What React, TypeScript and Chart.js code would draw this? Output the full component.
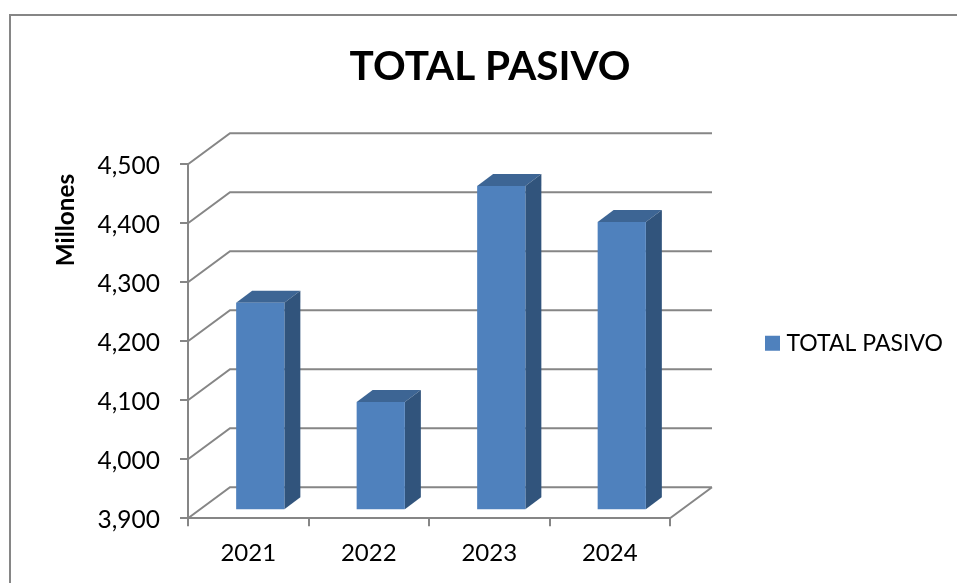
import React, { useEffect, useRef } from "react";
import { Chart, registerables } from "chart.js";

Chart.register(...registerables);

const categories = ["2021", "2022", "2023", "2024"];
const seriesName = "TOTAL PASIVO";
const values = [4250, 4082, 4448, 4387];
const yMin = 3900;
const yMax = 4500;
const yStep = 100;
const yTitle = "Millones";

const FONT = "Lato";
const GRID = "#868686";
const FRONT = "#4F81BD";
const TOP = "#3D6594";
const SIDE = "#31547C";

const WALL_DX = 42;
const WALL_DY = -31;
const BAR_DX = 12;
const BAR_DY = -9;
const DEPTH_DX = 16;
const DEPTH_DY = -12;

const scene = {
  id: "scene",
  afterLayout(chart: any) {
    const l = chart.legend;
    l.left = 765;
    l.right = 957;
    l.width = 192;
    l.top = 326.8;
    l.bottom = 380;
    l.height = 53.2;
    const t = chart.titleBlock;
    t.left = 23;
    t.right = 957;
    t.width = 934;
  },
  beforeDraw(chart: any) {
    const c = chart.ctx;
    c.save();
    c.fillStyle = "#ffffff";
    c.fillRect(0, 0, chart.width, chart.height);
    c.strokeStyle = GRID;
    c.lineWidth = 2;
    c.beginPath();
    c.moveTo(10, chart.height);
    c.lineTo(10, 15);
    c.lineTo(chart.width, 15);
    c.stroke();
    c.restore();
  },
  beforeDatasetsDraw(chart: any) {
    const c = chart.ctx;
    const { left, right, bottom } = chart.chartArea;
    const y = chart.scales.y;
    c.save();
    c.strokeStyle = GRID;
    c.lineWidth = 2;
    c.beginPath();
    for (const t of y.ticks) {
      const p = y.getPixelForValue(t.value);
      c.moveTo(left, p);
      c.lineTo(left + WALL_DX, p + WALL_DY);
      c.lineTo(right + WALL_DX, p + WALL_DY);
    }
    c.moveTo(right, bottom);
    c.lineTo(right + WALL_DX, bottom + WALL_DY);
    c.stroke();

    const bars = chart.getDatasetMeta(0).data;
    for (const b of bars) {
      const hw = b.width / 2;
      const x0 = b.x - hw + BAR_DX;
      const x1 = b.x + hw + BAR_DX;
      const yt = b.y + BAR_DY;
      const yb = y.getPixelForValue(yMin) + BAR_DY;
      c.fillStyle = TOP;
      c.beginPath();
      c.moveTo(x0, yt);
      c.lineTo(x0 + DEPTH_DX, yt + DEPTH_DY);
      c.lineTo(x1 + DEPTH_DX, yt + DEPTH_DY);
      c.lineTo(x1, yt);
      c.closePath();
      c.fill();
      c.fillStyle = SIDE;
      c.beginPath();
      c.moveTo(x1, yt);
      c.lineTo(x1 + DEPTH_DX, yt + DEPTH_DY);
      c.lineTo(x1 + DEPTH_DX, yb + DEPTH_DY);
      c.lineTo(x1, yb);
      c.closePath();
      c.fill();
    }
    c.restore();
    c.save();
    c.translate(BAR_DX, BAR_DY);
  },
  afterDatasetsDraw(chart: any) {
    chart.ctx.restore();
    const c = chart.ctx;
    c.save();
    c.fillStyle = "#000000";
    c.font = `bold 24.3px ${FONT}`;
    c.textAlign = "center";
    c.textBaseline = "middle";
    c.translate(66, 220);
    c.rotate(-Math.PI / 2);
    c.fillText(yTitle, 0, 0);
    c.restore();
  },
};

export default function App() {
  const ref = useRef<HTMLCanvasElement | null>(null);
  useEffect(() => {
    document.body.style.margin = "0";
    const chart = new Chart(ref.current as HTMLCanvasElement, {
      type: "bar",
      data: {
        labels: categories,
        datasets: [
          {
            label: seriesName,
            data: values,
            backgroundColor: FRONT,
            barPercentage: 0.4,
            categoryPercentage: 1,
          },
        ],
      },
      options: {
        responsive: false,
        animation: false,
        layout: { padding: { left: 23, right: 287, top: 0, bottom: 0 } },
        scales: {
          x: {
            offset: true,
            grid: {
              offset: true,
              drawOnChartArea: false,
              color: GRID,
              lineWidth: 2,
              tickLength: 8,
            },
            border: { color: GRID, width: 2 },
            ticks: { color: "#000", font: { family: FONT, size: 24 }, padding: 13, maxRotation: 0 },
            afterFit: (s: any) => {
              s.height = 64.7;
            },
          },
          y: {
            min: yMin,
            max: yMax,
            grid: { drawOnChartArea: false, color: GRID, lineWidth: 2, tickLength: 8 },
            border: { color: GRID, width: 2 },
            ticks: {
              stepSize: yStep,
              color: "#000",
              font: { family: FONT, size: 24.5 },
              padding: 20,
              labelOffset: 1.5,
              callback: (v: any) => Number(v).toLocaleString("en-US"),
            },
            afterFit: (s: any) => {
              s.width = 165;
            },
          },
        },
        plugins: {
          tooltip: { enabled: false },
          title: {
            display: true,
            text: seriesName,
            color: "#000",
            font: { family: FONT, size: 40.5, weight: "bold" },
            padding: { top: 42.5, bottom: 73.2 },
          },
          legend: {
            position: "chartArea",
            align: "start",
            labels: {
              boxWidth: 5,
              boxHeight: 5,
              padding: 5,
              color: "#000",
              font: { family: FONT, size: 23 },
              generateLabels: () => [
                {
                  text: seriesName,
                  fillStyle: FRONT,
                  strokeStyle: FRONT,
                  lineWidth: 10,
                  datasetIndex: 0,
                },
              ],
            },
          },
        },
      } as any,
      plugins: [scene],
    });
    return () => chart.destroy();
  }, []);
  return <canvas ref={ref} width={957} height={583} style={{ display: "block" }} />;
}
